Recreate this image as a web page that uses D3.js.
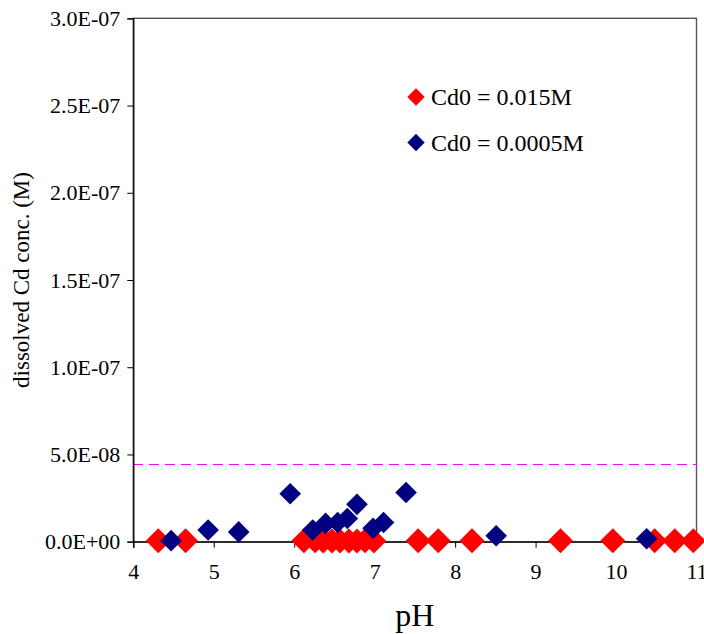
<!DOCTYPE html>
<html lang="en">
<head>
    <meta charset="UTF-8">
    <title>Dissolved Cd vs pH</title>
    <style>
        body { margin: 0; background: #fff; }
    </style>
</head>
<body>
    <script src="https://d3js.org/d3.v7.min.js"></script>
    <script>
        // Cd0 = 0.015M series
        const phHigh = [4.31, 4.65, 6.12, 6.26, 6.36, 6.47, 6.57, 6.68, 6.78, 6.88, 6.99,
                        7.54, 7.79, 8.21, 9.31, 9.96, 10.48, 10.73, 10.96];
        const cdHigh = [5e-10, 5e-10, 5e-10, 5e-10, 4e-10, 4e-10, 4e-10, 4e-10, 4e-10, 5e-10, 4e-10,
                        5e-10, 5e-10, 5e-10, 5e-10, 5e-10, 5e-10, 5e-10, 5e-10];

        // Cd0 = 0.0005M series
        const phLow = [4.47, 4.93, 5.31, 5.95, 6.23, 6.39, 6.54, 6.66, 6.78, 6.98, 7.11, 7.39, 8.51, 10.38];
        const cdLow = [6e-10, 6.7e-9, 5.6e-9, 2.75e-8, 6.7e-9, 1.05e-8, 1.1e-8, 1.33e-8, 2.14e-8,
                       7.7e-9, 1.1e-8, 2.82e-8, 3.4e-9, 1.7e-9];

        const limitValue = 4.45e-8;   // dashed reference line

        const xTicks = [4, 5, 6, 7, 8, 9, 10, 11];
        const yTicks = [0, 5e-8, 1e-7, 1.5e-7, 2e-7, 2.5e-7, 3e-7];
        const yTickLabels = ["0.0E+00", "5.0E-08", "1.0E-07", "1.5E-07", "2.0E-07", "2.5E-07", "3.0E-07"];

        const seriesNames = ["Cd0 = 0.015M", "Cd0 = 0.0005M"];
        const seriesColors = ["#ff0000", "#000080"];

        const FONT = "Liberation Serif";
        const width = 704, height = 634;
        const margin = { top: 18.3, right: 7.5, bottom: 92.3, left: 133.3 };

        const svg = d3.select("body").append("svg")
            .attr("width", width)
            .attr("height", height)
            .attr("font-family", FONT);

        const x = d3.scaleLinear().domain([4, 11]).range([margin.left, width - margin.right]);
        const y = d3.scaleLinear().domain([0, 3e-7]).range([height - margin.bottom, margin.top]);

        // plot frame (top / right)
        svg.append("rect")
            .attr("x", x(4)).attr("y", y(3e-7))
            .attr("width", x(11) - x(4)).attr("height", y(0) - y(3e-7))
            .attr("fill", "none")
            .attr("stroke", "#555")
            .attr("stroke-width", 1.4);

        // dashed limit line
        const ly0 = Math.round(y(limitValue)) + 0.5;
        svg.append("line")
            .attr("x1", x(4)).attr("x2", x(11))
            .attr("y1", ly0).attr("y2", ly0)
            .attr("stroke", "#ff00ff")
            .attr("stroke-width", 1)
            .attr("shape-rendering", "crispEdges")
            .attr("stroke-dasharray", "10,6");

        // axes
        const xAxis = svg.append("g")
            .attr("transform", `translate(0,${y(0)})`)
            .call(d3.axisBottom(x).tickValues(xTicks).tickSize(6).tickPadding(16).tickFormat(d3.format("d")));
        const yAxis = svg.append("g")
            .attr("transform", `translate(${x(4)},0)`)
            .call(d3.axisLeft(y).tickValues(yTicks).tickSize(6).tickPadding(7)
                .tickFormat((d, i) => yTickLabels[i]));

        [xAxis, yAxis].forEach(g => {
            g.attr("font-family", FONT).attr("font-size", 22);
            g.select(".domain").attr("stroke", "#000").attr("stroke-width", 1.3);
            g.selectAll(".tick line").attr("stroke", "#000");
            g.selectAll("text").attr("fill", "#000").attr("font-family", FONT);
        });

        // markers: rotated squares (Excel-style diamonds)
        const diamond = area => d3.symbol().type(d3.symbolSquare).size(area)();

        function drawSeries(phs, vals, color, area) {
            svg.append("g").selectAll("path")
                .data(phs.map((p, i) => [p, vals[i]]))
                .join("path")
                .attr("d", diamond(area))
                .attr("transform", d => `translate(${x(d[0])},${y(d[1])}) rotate(45)`)
                .attr("fill", color);
        }
        drawSeries(phHigh, cdHigh, seriesColors[0], 312);
        drawSeries(phLow, cdLow, seriesColors[1], 235);

        // legend
        const legend = svg.append("g");
        seriesNames.forEach((name, i) => {
            const ly = 97 + i * 45.5;
            legend.append("path")
                .attr("d", diamond(150))
                .attr("transform", `translate(416,${ly}) rotate(45)`)
                .attr("fill", seriesColors[i]);
            legend.append("text")
                .attr("x", 431)
                .attr("y", ly)
                .attr("dy", "0.35em")
                .attr("font-family", FONT)
                .attr("font-size", 24)
                .text(name);
        });

        // axis titles
        svg.append("text")
            .attr("x", (x(4) + x(11)) / 2)
            .attr("y", 626)
            .attr("text-anchor", "middle")
            .attr("font-family", FONT)
            .attr("font-size", 32)
            .text("pH");

        svg.append("text")
            .attr("transform", `translate(29,${(y(0) + y(3e-7)) / 2}) rotate(-90)`)
            .attr("text-anchor", "middle")
            .attr("font-family", FONT)
            .attr("font-size", 23)
            .text("dissolved Cd conc. (M)");
    </script>
</body>
</html>
